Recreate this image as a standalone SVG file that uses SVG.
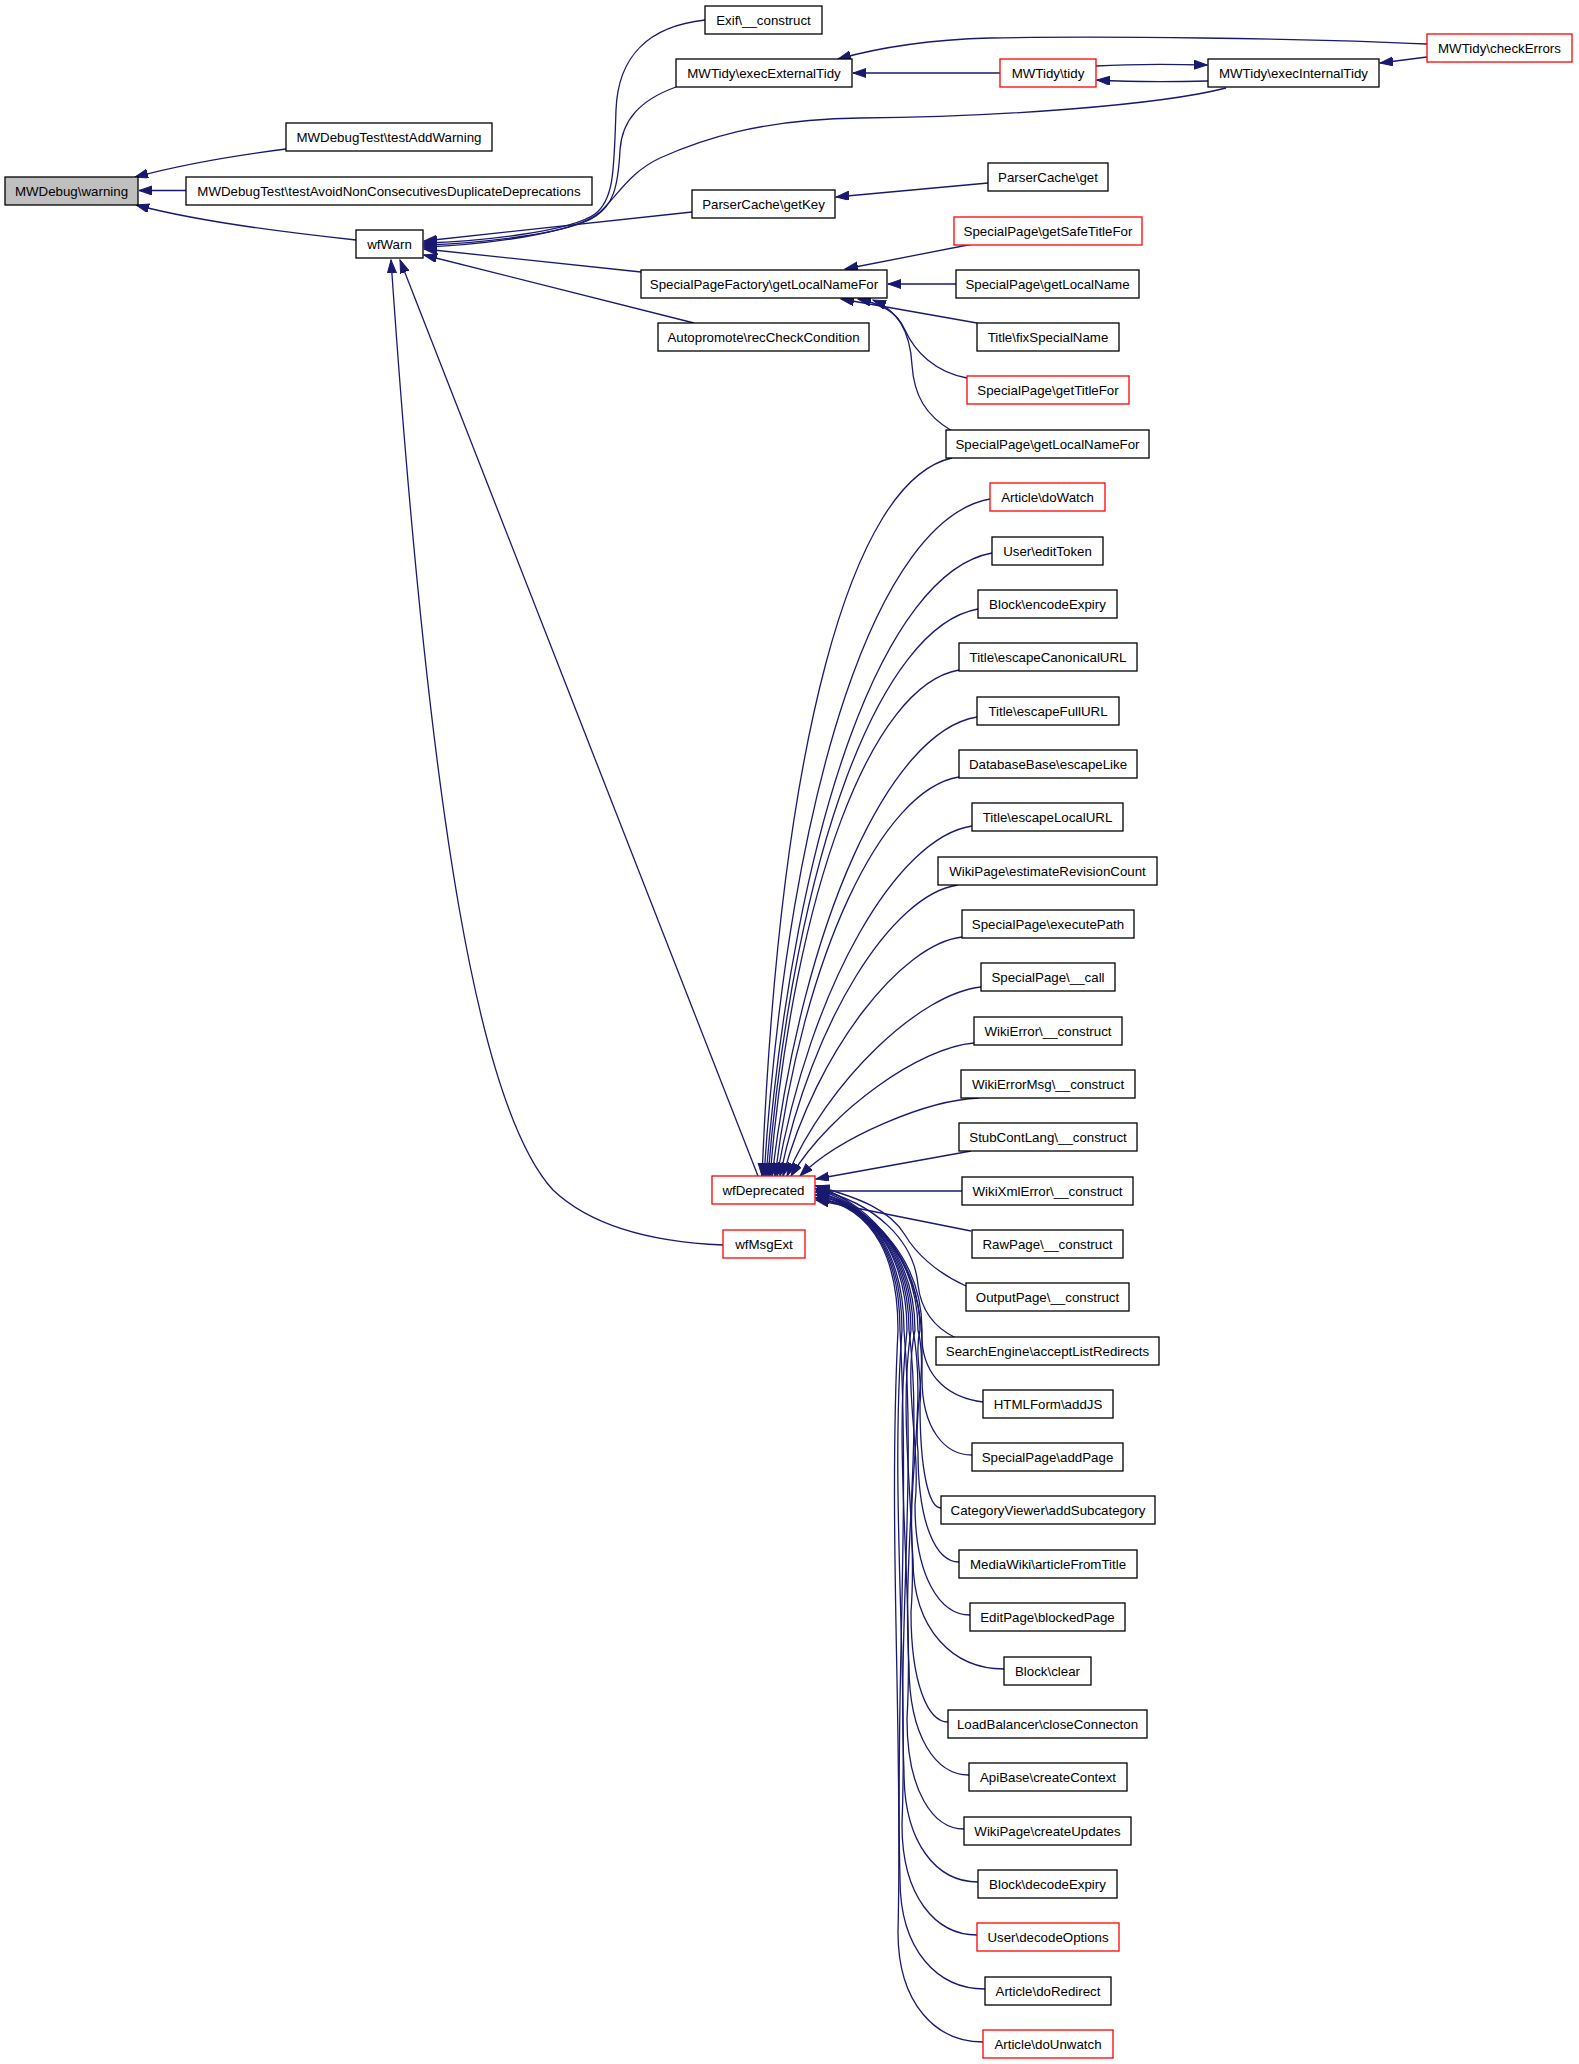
<svg xmlns="http://www.w3.org/2000/svg" width="1579" height="2064" viewBox="0 0 1579 2064">
<style>
.n rect{fill:#fff;stroke:#000;stroke-width:1.3}
.r rect{stroke:#f00}
.g rect{fill:#bfbfbf}
text{font-family:"Liberation Sans",Arial,sans-serif;font-size:13.3px;text-anchor:middle;fill:#000}
#edges path{fill:none;stroke:#191970;stroke-width:1.3;marker-end:url(#ah)}
</style>
<defs>
<marker id="ah" markerUnits="userSpaceOnUse" markerWidth="14" markerHeight="10" refX="13" refY="4.5" orient="auto">
<path d="M0,0 L13,4.5 L0,9 z" fill="#191970" stroke="#191970" stroke-width="1"/>
</marker>
</defs>
<rect width="1579" height="2064" fill="#fff"/>
<g id="edges">
<path d="M286,149 C230,156 180,165 135,177"/>
<path d="M186,190.5 L139,190.5"/>
<path d="M356,240 C290,233 200,222 136,205"/>
<path d="M705,20 C650,26 618,55 616,110 C614,170 614,200 595,214 C570,232 480,241 424,243"/>
<path d="M676,87 C640,100 622,120 620,150 C618,190 612,205 596,216 C570,234 480,243 424,245"/>
<path d="M1226,88 C1160,105 1000,117 860,118 C760,119 700,140 660,158 C630,172 618,195 600,212 C575,234 480,245 424,247"/>
<path d="M692,212 L424,241"/>
<path d="M641,272 L424,249"/>
<path d="M694,323 L424,255"/>
<path d="M758,1176 L400,260"/>
<path d="M723,1245 C650,1242 590,1225 553,1190 C480,1110 430,830 391,260"/>
<path d="M1000,73 L853,73"/>
<path d="M1427,44 C1300,38 1100,36 990,38 C920,40 870,50 838,59"/>
<path d="M1096,66 C1130,64 1170,64 1207,65"/>
<path d="M1208,81 C1170,82 1130,82 1097,80"/>
<path d="M1427,57 L1380,63"/>
<path d="M988,183 L836,197"/>
<path d="M973,244 L845,269"/>
<path d="M956,284 L888,284"/>
<path d="M977,323 L841,299"/>
<path d="M967,378 C935,372 915,352 905,330 C897,312 882,304 858,299"/>
<path d="M952,431 C925,415 914,395 912,365 C910,330 897,310 873,300"/>
<path d="M952,458 C851,480 780,744 762,1176"/>
<path d="M990,499 C879,519 790,780 764,1176"/>
<path d="M992,553 C886,572 795,817 766,1176"/>
<path d="M978,609 C881,626 795,851 768,1176"/>
<path d="M959,670 C872,685 795,886 770,1176"/>
<path d="M977,717 C890,731 803,921 772,1176"/>
<path d="M959,777 C882,789 803,955 775,1176"/>
<path d="M972,826 C897,837 810,987 777,1176"/>
<path d="M958,885 C892,894 812,1021 780,1176"/>
<path d="M962,937 C901,944 817,1051 783,1176"/>
<path d="M981,987 C921,993 828,1080 787,1176"/>
<path d="M974,1043 C921,1047 831,1110 791,1176"/>
<path d="M979,1098 C927,1100 839,1137 800,1176"/>
<path d="M971,1151 L816,1179"/>
<path d="M962,1191 L816,1191"/>
<path d="M971,1231 L816,1200"/>
<path d="M966,1286 C935,1272 915,1252 905,1235 C890,1210 860,1198 816,1186"/>
<path d="M956,1338 C935,1328 921,1310 918,1285 C914,1240 875,1203 816,1189"/>
<path d="M983,1402 C950,1398 924,1378 922,1340 C920,1270 880,1208 816,1192"/>
<path d="M972,1455 C944,1455 922,1428 922,1378 L922,1330 C922,1265 878,1207 816,1195"/>
<path d="M941,1508 C929,1508 920,1472 920,1404 C923,1380 914,1355 920,1330 C920,1265 878,1207 816,1198"/>
<path d="M959,1562 C936,1562 918,1524 918,1452 C913,1412 928,1371 918,1330 C918,1265 878,1207 816,1186"/>
<path d="M970,1615 C940,1615 915,1577 915,1505 C921,1447 903,1388 915,1330 C915,1265 878,1207 816,1189"/>
<path d="M1004,1669 C954,1669 913,1631 913,1559 C906,1483 927,1406 913,1330 C913,1265 878,1207 816,1192"/>
<path d="M948,1722 C928,1722 911,1684 911,1612 C918,1519 897,1425 911,1330 C911,1265 878,1207 816,1195"/>
<path d="M969,1775 C936,1775 909,1737 909,1665 C902,1554 923,1442 909,1330 C909,1265 878,1207 816,1198"/>
<path d="M964,1829 C933,1829 907,1791 907,1719 C914,1591 893,1460 907,1330 C907,1265 878,1207 816,1186"/>
<path d="M978,1882 C937,1882 904,1844 904,1772 C898,1626 916,1478 904,1330 C904,1265 878,1207 816,1189"/>
<path d="M977,1935 C936,1935 902,1897 902,1825 C908,1662 890,1495 902,1330 C902,1265 878,1207 816,1192"/>
<path d="M985,1989 C938,1989 900,1951 900,1879 C895,1698 910,1517 900,1330 C900,1265 878,1207 816,1195"/>
<path d="M983,2042 C936,2042 898,2004 898,1932 C903,1733 888,1535 898,1330 C898,1265 878,1207 816,1198"/>
</g>
<g id="n_warning" class="n g"><rect x="5" y="177" width="133" height="28"/><text x="71.5" y="195.5">MWDebug\warning</text></g>
<g id="n_testAddWarning" class="n"><rect x="286" y="123" width="206" height="28"/><text x="389" y="141.5">MWDebugTest\testAddWarning</text></g>
<g id="n_testAvoid" class="n"><rect x="186" y="177" width="406" height="28"/><text x="389" y="195.5">MWDebugTest\testAvoidNonConsecutivesDuplicateDeprecations</text></g>
<g id="n_wfWarn" class="n"><rect x="356" y="230" width="67" height="28"/><text x="389.5" y="248.5">wfWarn</text></g>
<g id="n_exif" class="n"><rect x="705" y="6" width="117" height="28"/><text x="763.5" y="24.5">Exif\__construct</text></g>
<g id="n_execExternalTidy" class="n"><rect x="676" y="59" width="176" height="28"/><text x="764" y="77.5">MWTidy\execExternalTidy</text></g>
<g id="n_getKey" class="n"><rect x="692" y="190" width="143" height="28"/><text x="763.5" y="208.5">ParserCache\getKey</text></g>
<g id="n_spfGetLocalNameFor" class="n"><rect x="641" y="270" width="246" height="28"/><text x="764" y="288.5">SpecialPageFactory\getLocalNameFor</text></g>
<g id="n_recCheckCondition" class="n"><rect x="658" y="323" width="211" height="28"/><text x="763.5" y="341.5">Autopromote\recCheckCondition</text></g>
<g id="n_wfDeprecated" class="n r"><rect x="712" y="1176" width="103" height="28"/><text x="763.5" y="1194.5">wfDeprecated</text></g>
<g id="n_wfMsgExt" class="n r"><rect x="723" y="1230" width="82" height="28"/><text x="764" y="1248.5">wfMsgExt</text></g>
<g id="n_tidy" class="n r"><rect x="1000" y="59" width="96" height="28"/><text x="1048" y="77.5">MWTidy\tidy</text></g>
<g id="n_execInternalTidy" class="n"><rect x="1208" y="59" width="171" height="28"/><text x="1293.5" y="77.5">MWTidy\execInternalTidy</text></g>
<g id="n_checkErrors" class="n r"><rect x="1427" y="34" width="145" height="28"/><text x="1499.5" y="52.5">MWTidy\checkErrors</text></g>
<g id="n_pcGet" class="n"><rect x="988" y="163" width="120" height="28"/><text x="1048" y="181.5">ParserCache\get</text></g>
<g id="n_getSafeTitleFor" class="n r"><rect x="954" y="217" width="188" height="28"/><text x="1048" y="235.5">SpecialPage\getSafeTitleFor</text></g>
<g id="n_getLocalName" class="n"><rect x="956" y="270" width="183" height="28"/><text x="1047.5" y="288.5">SpecialPage\getLocalName</text></g>
<g id="n_fixSpecialName" class="n"><rect x="977" y="323" width="142" height="28"/><text x="1048" y="341.5">Title\fixSpecialName</text></g>
<g id="n_getTitleFor" class="n r"><rect x="967" y="376" width="162" height="28"/><text x="1048" y="394.5">SpecialPage\getTitleFor</text></g>
<g id="n_spGetLocalNameFor" class="n"><rect x="946" y="430" width="203" height="28"/><text x="1047.5" y="448.5">SpecialPage\getLocalNameFor</text></g>
<g id="n_doWatch" class="n r"><rect x="990" y="483" width="115" height="28"/><text x="1047.5" y="501.5">Article\doWatch</text></g>
<g id="n_editToken" class="n"><rect x="992" y="537" width="111" height="28"/><text x="1047.5" y="555.5">User\editToken</text></g>
<g id="n_encodeExpiry" class="n"><rect x="978" y="590" width="139" height="28"/><text x="1047.5" y="608.5">Block\encodeExpiry</text></g>
<g id="n_escapeCanonicalURL" class="n"><rect x="959" y="643" width="178" height="28"/><text x="1048" y="661.5">Title\escapeCanonicalURL</text></g>
<g id="n_escapeFullURL" class="n"><rect x="977" y="697" width="142" height="28"/><text x="1048" y="715.5">Title\escapeFullURL</text></g>
<g id="n_escapeLike" class="n"><rect x="959" y="750" width="178" height="28"/><text x="1048" y="768.5">DatabaseBase\escapeLike</text></g>
<g id="n_escapeLocalURL" class="n"><rect x="972" y="803" width="151" height="28"/><text x="1047.5" y="821.5">Title\escapeLocalURL</text></g>
<g id="n_estimateRevisionCount" class="n"><rect x="938" y="857" width="219" height="28"/><text x="1047.5" y="875.5">WikiPage\estimateRevisionCount</text></g>
<g id="n_executePath" class="n"><rect x="962" y="910" width="172" height="28"/><text x="1048" y="928.5">SpecialPage\executePath</text></g>
<g id="n_call" class="n"><rect x="981" y="963" width="134" height="28"/><text x="1048" y="981.5">SpecialPage\__call</text></g>
<g id="n_wikiError" class="n"><rect x="974" y="1017" width="148" height="28"/><text x="1048" y="1035.5">WikiError\__construct</text></g>
<g id="n_wikiErrorMsg" class="n"><rect x="961" y="1070" width="174" height="28"/><text x="1048" y="1088.5">WikiErrorMsg\__construct</text></g>
<g id="n_stubContLang" class="n"><rect x="959" y="1123" width="178" height="28"/><text x="1048" y="1141.5">StubContLang\__construct</text></g>
<g id="n_wikiXmlError" class="n"><rect x="962" y="1177" width="171" height="28"/><text x="1047.5" y="1195.5">WikiXmlError\__construct</text></g>
<g id="n_rawPage" class="n"><rect x="972" y="1230" width="151" height="28"/><text x="1047.5" y="1248.5">RawPage\__construct</text></g>
<g id="n_outputPage" class="n"><rect x="966" y="1283" width="163" height="28"/><text x="1047.5" y="1301.5">OutputPage\__construct</text></g>
<g id="n_acceptListRedirects" class="n"><rect x="936" y="1337" width="223" height="28"/><text x="1047.5" y="1355.5">SearchEngine\acceptListRedirects</text></g>
<g id="n_addJS" class="n"><rect x="983" y="1390" width="130" height="28"/><text x="1048" y="1408.5">HTMLForm\addJS</text></g>
<g id="n_addPage" class="n"><rect x="972" y="1443" width="151" height="28"/><text x="1047.5" y="1461.5">SpecialPage\addPage</text></g>
<g id="n_addSubcategory" class="n"><rect x="941" y="1496" width="214" height="28"/><text x="1048" y="1514.5">CategoryViewer\addSubcategory</text></g>
<g id="n_articleFromTitle" class="n"><rect x="959" y="1550" width="178" height="28"/><text x="1048" y="1568.5">MediaWiki\articleFromTitle</text></g>
<g id="n_blockedPage" class="n"><rect x="970" y="1603" width="155" height="28"/><text x="1047.5" y="1621.5">EditPage\blockedPage</text></g>
<g id="n_blockClear" class="n"><rect x="1004" y="1657" width="87" height="28"/><text x="1047.5" y="1675.5">Block\clear</text></g>
<g id="n_closeConnecton" class="n"><rect x="948" y="1710" width="199" height="28"/><text x="1047.5" y="1728.5">LoadBalancer\closeConnecton</text></g>
<g id="n_createContext" class="n"><rect x="969" y="1763" width="158" height="28"/><text x="1048" y="1781.5">ApiBase\createContext</text></g>
<g id="n_createUpdates" class="n"><rect x="964" y="1817" width="167" height="28"/><text x="1047.5" y="1835.5">WikiPage\createUpdates</text></g>
<g id="n_decodeExpiry" class="n"><rect x="978" y="1870" width="139" height="28"/><text x="1047.5" y="1888.5">Block\decodeExpiry</text></g>
<g id="n_decodeOptions" class="n r"><rect x="977" y="1923" width="142" height="28"/><text x="1048" y="1941.5">User\decodeOptions</text></g>
<g id="n_doRedirect" class="n"><rect x="985" y="1977" width="126" height="28"/><text x="1048" y="1995.5">Article\doRedirect</text></g>
<g id="n_doUnwatch" class="n r"><rect x="983" y="2030" width="130" height="28"/><text x="1048" y="2048.5">Article\doUnwatch</text></g>
</svg>
